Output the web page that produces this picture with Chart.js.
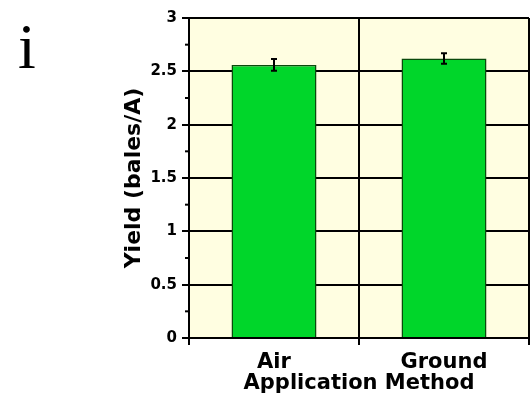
<!DOCTYPE html>
<html>
<head>
<meta charset="utf-8">
<script src="https://cdn.jsdelivr.net/npm/chart.js@4"></script>
<style>
  html, body { margin: 0; padding: 0; background: #fff; }
  #wrap { position: relative; width: 530px; height: 402px; }
</style>
</head>
<body>
<div id="wrap"><canvas id="chart" width="530" height="402"></canvas></div>
<script>
/* Yield by application method, panel i */

const categories = ["Air", "Ground"];
const yieldValues = [2.56, 2.62];
const yieldErrors = [0.055, 0.05];
const yTicks = [0, 0.5, 1, 1.5, 2, 2.5, 3];
const panelLabel = "i";

const FONT = "DejaVu Sans";
const isMajor = (v) => yTicks.some((t) => Math.abs(t - v) < 1e-9);

const extras = {
  id: "extras",
  beforeDraw(chart) {
    const { ctx, chartArea: a } = chart;
    ctx.save();
    ctx.fillStyle = "#FFFEE1";
    ctx.fillRect(a.left, a.top, a.right - a.left, a.bottom - a.top);
    ctx.restore();
  },
  afterDatasetsDraw(chart) {
    const { ctx } = chart;
    const y = chart.scales.y;
    const bars = chart.getDatasetMeta(0).data;
    ctx.save();
    ctx.strokeStyle = "#000";
    ctx.lineWidth = 2;
    bars.forEach((bar, i) => {
      const top = y.getPixelForValue(yieldValues[i] + yieldErrors[i]);
      const bot = y.getPixelForValue(yieldValues[i] - yieldErrors[i]);
      ctx.beginPath();
      ctx.moveTo(bar.x, top);
      ctx.lineTo(bar.x, bot);
      ctx.moveTo(bar.x - 3, top);
      ctx.lineTo(bar.x + 3, top);
      ctx.moveTo(bar.x - 3, bot);
      ctx.lineTo(bar.x + 3, bot);
      ctx.stroke();
    });
    ctx.restore();
  },
  afterDraw(chart) {
    const { ctx, chartArea: a } = chart;
    const y = chart.scales.y;
    ctx.save();
    // minor ticks
    ctx.strokeStyle = "#000";
    ctx.lineWidth = 2;
    y.ticks.forEach((t) => {
      if (isMajor(t.value)) return;
      const py = y.getPixelForValue(t.value);
      ctx.beginPath();
      ctx.moveTo(a.left - 4, py);
      ctx.lineTo(a.left, py);
      ctx.stroke();
    });
    // panel label
    ctx.fillStyle = "#000";
    ctx.font = "64px 'Liberation Serif'";
    ctx.textBaseline = "alphabetic";
    ctx.textAlign = "left";
    ctx.fillText(panelLabel, 18, 68);
    ctx.restore();
  },
};

new Chart(document.getElementById("chart"), {
  type: "bar",
  data: {
    labels: categories,
    datasets: [{
      data: yieldValues,
      backgroundColor: "#00D62A",
      borderColor: "#0A4A0C",
      borderWidth: 1.5,
      barPercentage: 0.5,
      categoryPercentage: 1,
    }],
  },
  options: {
    responsive: false,
    animation: false,
    devicePixelRatio: 1,
    layout: { padding: { left: 110, top: 18, right: 1, bottom: 0 } },
    plugins: { legend: { display: false }, tooltip: { enabled: false } },
    scales: {
      x: {
        offset: true,
        grid: { offset: true, color: "#000", lineWidth: 2, tickLength: 7, tickColor: "#000", tickWidth: 2 },
        border: { color: "#000", width: 2 },
        ticks: { color: "#000", font: { family: FONT, weight: "bold", size: 21 }, padding: 5, maxRotation: 0 },
        title: {
          display: true,
          text: "Application Method",
          color: "#000",
          font: { family: FONT, weight: "bold", size: 21, lineHeight: 1 },
          padding: { top: 0, bottom: 8 },
        },
        afterFit: (s) => { s.height = 64; },
      },
      y: {
        min: 0,
        max: 3,
        ticks: {
          stepSize: 0.25,
          autoSkip: false,
          color: "#000",
          padding: 5,
          font: { family: FONT, weight: "bold", size: 15 },
          callback: (v) => (isMajor(v) ? String(v) : ""),
        },
        grid: {
          color: (c) => (isMajor(c.tick.value) ? "#000" : "rgba(0,0,0,0)"),
          tickColor: (c) => (isMajor(c.tick.value) ? "#000" : "rgba(0,0,0,0)"),
          lineWidth: 2,
          tickWidth: 2,
          tickLength: 7,
        },
        border: { color: "#000", width: 2 },
        title: {
          display: true,
          text: "Yield (bales/A)",
          color: "#000",
          font: { family: FONT, weight: "bold", size: 22, lineHeight: 1.2 },
          padding: { top: 11, bottom: 0 },
        },
        afterFit: (s) => { s.width = 79; },
      },
    },
  },
  plugins: [extras],
});
</script>
</body>
</html>
